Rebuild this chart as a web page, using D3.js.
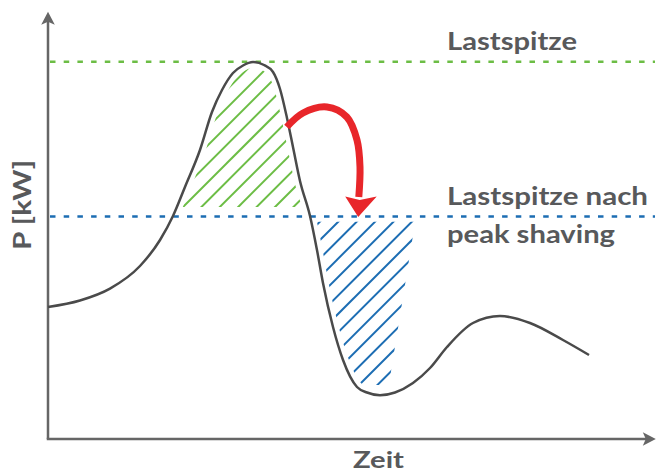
<!DOCTYPE html>
<html>
<head>
<meta charset="utf-8">
<script src="https://cdn.jsdelivr.net/npm/d3@7"></script>
<style>
  body { margin: 0; background: #fff; }
  svg { display: block; }
  text { font-family: Lato, "Open Sans", sans-serif; font-weight: 700; fill: #58595b; }
</style>
</head>
<body>
<svg id="chart"></svg>
<script>
// load profile (time in %, power in %)
const loadTime  = [0, 5.33, 10.33, 15.33, 18.67, 20.83, 22.83, 25.33, 27.33, 29, 30.83, 32.5, 34.17, 36, 37.5, 38.67, 39.83, 40.83, 42, 43.67, 44.83, 45.83, 47.5, 49.17, 51.5, 53.17, 55.33, 57.83, 60.83, 63.67, 66.5, 70.83, 75.33, 80.33, 85.83, 90.17];
const loadPower = [33, 34.63, 37.6, 43.25, 49.75, 55.75, 63, 72.25, 81.75, 87.25, 91.5, 93.38, 94.25, 93.5, 91.75, 87.5, 80.25, 73, 64.5, 55.75, 47.25, 39, 28, 19.75, 13, 11.63, 10.93, 11.63, 14, 17.75, 23, 29, 30.75, 29, 24.75, 21];

// levels
const peakLevel = 94.3;
const shavedLevel = 55.6;

// red arrow path (time, power)
const arrowTime  = [39.8, 42.5, 46.5, 49.8, 51.5, 52, 51.8];
const arrowPower = [78, 81.5, 83, 80.5, 74.75, 68, 60.5];
const arrowTip = {t: 51.7, p: 55.5};

// shifted energy window (blue hatch), right edge
const shiftTop = 54.3, shiftRightTop = 61.2, shiftBottom = 13.5, shiftRightBottom = 56.8;
const hatchCutGreen = 58;   // green hatch ends a bit above the shaved level

const labels = {
  peak: "Lastspitze",
  shaved1: "Lastspitze nach",
  shaved2: "peak shaving",
  x: "Zeit",
  y: "P [kW]"
};

const W = 657, H = 475;
const svg = d3.select("#chart").attr("width", W).attr("height", H);

const x = d3.scaleLinear().domain([0, 100]).range([48, 648]);
const y = d3.scaleLinear().domain([0, 100]).range([439, 39]);

const data = loadTime.map((t, i) => ({t: t, p: loadPower[i]}));
const curveType = d3.curveMonotoneX;

const line = d3.line().x(d => x(d.t)).y(d => y(d.p)).curve(curveType);

const defs = svg.append("defs");

// clip: under the curve
defs.append("clipPath").attr("id", "underCurve")
  .append("path")
  .attr("d", d3.area().x(d => x(d.t)).y0(H).y1(d => y(d.p)).curve(curveType)(data));
defs.append("clipPath").attr("id", "aboveCut")
  .append("rect").attr("x", 0).attr("y", 0).attr("width", W).attr("height", y(hatchCutGreen));

// clip: above the curve
defs.append("clipPath").attr("id", "overCurve")
  .append("path")
  .attr("d", d3.area().x(d => x(d.t)).y0(0).y1(d => y(d.p)).curve(curveType)(data));
defs.append("clipPath").attr("id", "shiftWindow")
  .append("polygon")
  .attr("points", [
    [x(40), y(shiftTop)], [x(shiftRightTop), y(shiftTop)],
    [x(shiftRightBottom), y(shiftBottom)], [x(40), y(shiftBottom)]
  ].join(" "));

// diagonal hatch lines x + y = c
function hatch(g, c0, color, nBefore, nAfter) {
  const step = 18.4;
  const cs = d3.range(-nBefore, nAfter + 1).map(k => c0 + k * step);
  g.selectAll("line").data(cs).join("line")
    .attr("x1", c => c - H).attr("y1", H)
    .attr("x2", c => c).attr("y2", 0)
    .attr("stroke", color)
    .attr("stroke-width", 2);
}

const green = svg.append("g").attr("clip-path", "url(#aboveCut)")
  .append("g").attr("clip-path", "url(#underCurve)");
hatch(green, 390, "#6cbd45", 10, 8);

const blue = svg.append("g").attr("clip-path", "url(#shiftWindow)")
  .append("g").attr("clip-path", "url(#overCurve)");
hatch(blue, 560, "#1c6db3", 3, 14);

// white halo keeps the hatch off the curve
svg.append("path")
  .attr("d", line(data))
  .attr("fill", "none")
  .attr("stroke", "#fff")
  .attr("stroke-width", 11);

// axes with arrows
const axisColor = "#666";
const xEnd = 101.3, yEnd = 106.8;
svg.append("line")
  .attr("x1", x(0)).attr("y1", y(0)).attr("x2", x(0)).attr("y2", y(yEnd) + 6)
  .attr("stroke", axisColor).attr("stroke-width", 2.5);
svg.append("line")
  .attr("x1", x(0) - 1.25).attr("y1", y(0)).attr("x2", x(xEnd) - 6).attr("y2", y(0))
  .attr("stroke", axisColor).attr("stroke-width", 2.5);
svg.append("path")
  .attr("d", `M${x(0)},${y(yEnd)} L${x(0) + 6.8},${y(yEnd) + 13} L${x(0)},${y(yEnd) + 10} L${x(0) - 6.8},${y(yEnd) + 13} Z`)
  .attr("fill", axisColor);
svg.append("path")
  .attr("d", `M${x(xEnd)},${y(0)} L${x(xEnd) - 13},${y(0) - 6.8} L${x(xEnd) - 10},${y(0)} L${x(xEnd) - 13},${y(0) + 6.8} Z`)
  .attr("fill", axisColor);

// level lines
const levels = [
  {p: peakLevel, color: "#6cbd45"},
  {p: shavedLevel, color: "#1c6db3"}
];
svg.selectAll(".level").data(levels).join("line")
  .attr("class", "level")
  .attr("x1", x(0) + 2).attr("x2", x(100) + 7)
  .attr("y1", d => y(d.p)).attr("y2", d => y(d.p))
  .attr("stroke", d => d.color)
  .attr("stroke-width", 2.5)
  .attr("stroke-dasharray", "5.5 8.2");

// load curve
svg.append("path")
  .attr("d", line(data))
  .attr("fill", "none")
  .attr("stroke", "#4a4a4a")
  .attr("stroke-width", 2.5);

// red arrow
const arrowData = arrowTime.map((t, i) => ({t: t, p: arrowPower[i]}));
svg.append("path")
  .attr("d", d3.line().x(d => x(d.t)).y(d => y(d.p)).curve(d3.curveCatmullRom)(arrowData))
  .attr("fill", "none")
  .attr("stroke", "#e8262a")
  .attr("stroke-width", 7);
const tx = x(arrowTip.t), ty = y(arrowTip.p);
svg.append("path")
  .attr("d", `M${tx},${ty} L${tx - 13},${ty - 20.5} L${tx + 1.5},${ty - 17} L${tx + 18.5},${ty - 20.5} Z`)
  .attr("fill", "#e8262a");

// labels
svg.append("text").attr("x", 447).attr("y", 49.5)
  .attr("font-size", 24.5).attr("textLength", 130).attr("lengthAdjust", "spacingAndGlyphs")
  .text(labels.peak);
svg.append("text").attr("x", 447).attr("y", 205)
  .attr("font-size", 24.5).attr("textLength", 201).attr("lengthAdjust", "spacingAndGlyphs")
  .text(labels.shaved1);
svg.append("text").attr("x", 447).attr("y", 243)
  .attr("font-size", 24.5).attr("textLength", 168).attr("lengthAdjust", "spacingAndGlyphs")
  .text(labels.shaved2);
svg.append("text").attr("x", 353).attr("y", 468)
  .attr("font-size", 23).attr("textLength", 51).attr("lengthAdjust", "spacingAndGlyphs")
  .text(labels.x);
svg.append("text")
  .attr("transform", "translate(31,250) rotate(-90)")
  .attr("font-size", 25).attr("textLength", 90).attr("lengthAdjust", "spacingAndGlyphs")
  .text(labels.y);
</script>
</body>
</html>
